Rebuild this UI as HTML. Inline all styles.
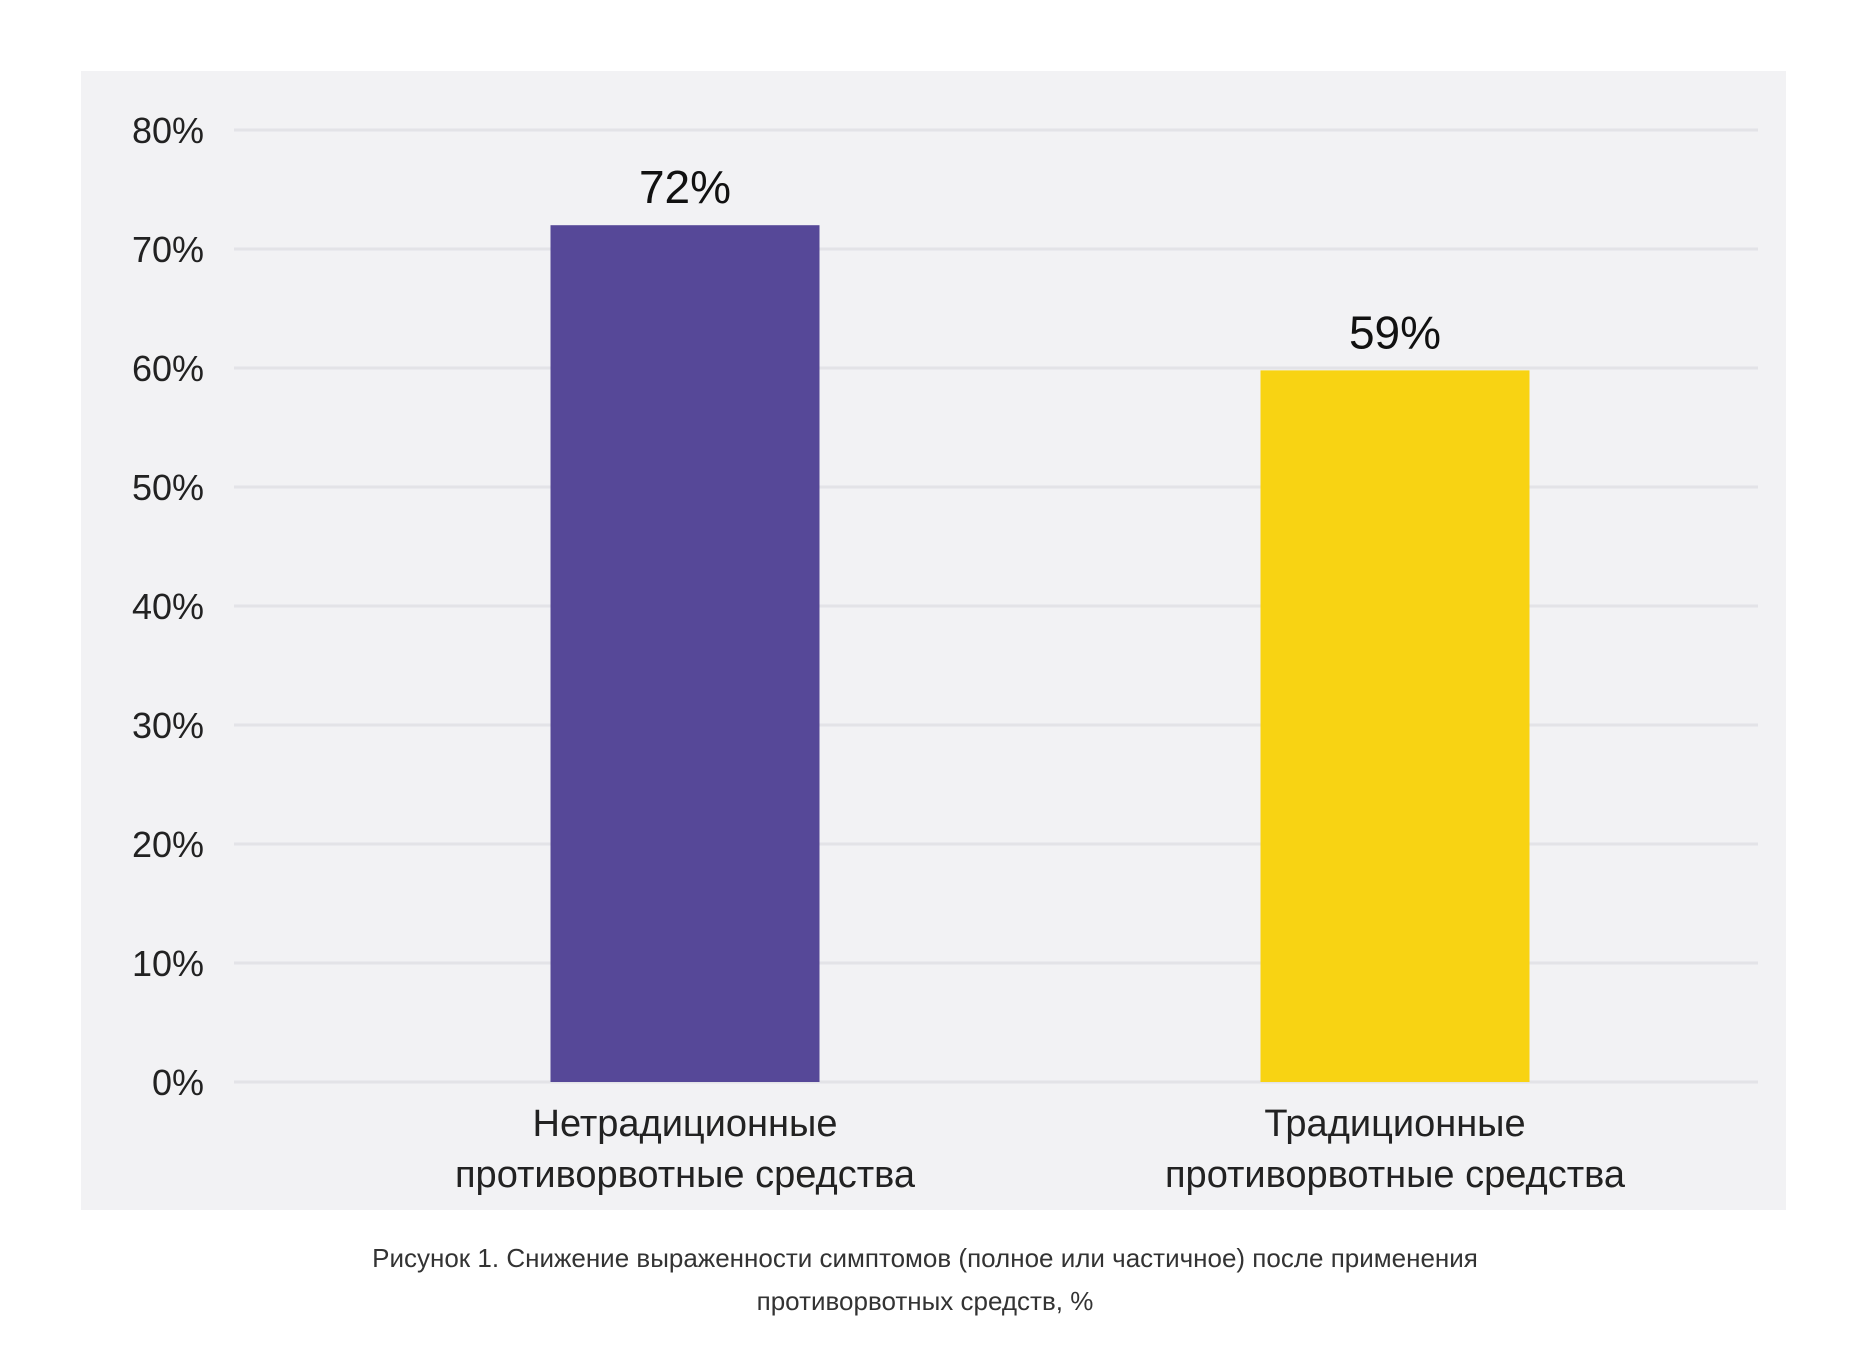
<!DOCTYPE html>
<html><head><meta charset="utf-8">
<style>
body{margin:0;background:#fff;width:1850px;height:1356px;overflow:hidden;font-family:"Liberation Sans","DejaVu Sans",sans-serif;}
</style></head>
<body>
<svg width="1850" height="1356" viewBox="0 0 1850 1356">
<rect x="81" y="71" width="1705" height="1139" fill="#f2f2f4"/>
<g id="grid"></g><g id="bars"></g><g id="labels"></g>
<text x="925" y="1267" text-anchor="middle" font-size="26" fill="#333">Рисунок 1. Снижение выраженности симптомов (полное или частичное) после применения</text>
<text x="925" y="1310" text-anchor="middle" font-size="26" fill="#333">противорвотных средств, %</text>
</svg>
<script>
const ticks=[0,10,20,30,40,50,60,70,80];
const tickLabels=["0%","10%","20%","30%","40%","50%","60%","70%","80%"];
const categories=[["Нетрадиционные","противорвотные средства"],["Традиционные","противорвотные средства"]];
const values=[72,59.8];
const valueLabels=["72%","59%"];
const colors=["#564898","#f8d313"];
const NS="http://www.w3.org/2000/svg";
const y0=1082,y1=130,vmax=80;
const y=v=>y0-(y0-y1)*v/vmax;
const centers=[685,1395],bw=269;
function mk(t,a,p){const e=document.createElementNS(NS,t);for(const k in a)e.setAttribute(k,a[k]);p.appendChild(e);return e;}
const g=document.getElementById('grid'),b=document.getElementById('bars'),l=document.getElementById('labels');
ticks.forEach((t,i)=>{
 const ln=mk('line',{x1:234,x2:1758,y1:y(t),y2:y(t),stroke:'#e3e3e7','stroke-width':3},g);
 
 
 const tx=mk('text',{x:204,y:y(t)+13,'text-anchor':'end','font-size':36,fill:'#222'},l);
 tx.textContent=tickLabels[i];
 
 
});
values.forEach((v,i)=>{
 const r=mk('rect',{x:centers[i]-bw/2,y:y(v),width:bw,height:y0-y(v),fill:colors[i]},b);
 
 
 const vt=mk('text',{x:centers[i],y:y(v)-22,'text-anchor':'middle','font-size':46,fill:'#111'},l);
 vt.textContent=valueLabels[i];
 
 
 categories[i].forEach((s,j)=>{
  const ct=mk('text',{x:centers[i],y:1136+j*51,'text-anchor':'middle','font-size':38,fill:'#222'},l);
  ct.textContent=s;
  
  
 });
});
</script>
</body></html>
